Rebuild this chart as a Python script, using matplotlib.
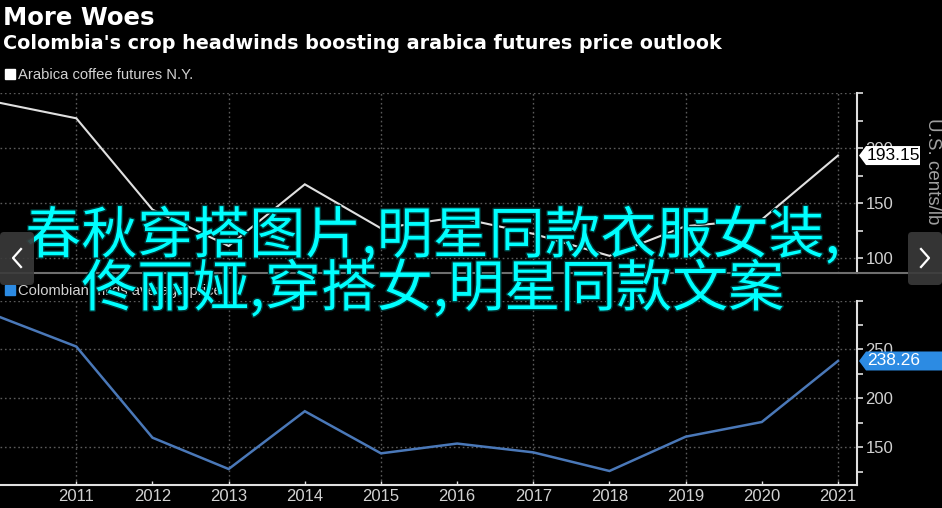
import matplotlib
matplotlib.use("Agg")
import matplotlib.pyplot as plt
from matplotlib.patches import Polygon, FancyBboxPatch, Rectangle
from matplotlib.lines import Line2D
from matplotlib.transforms import IdentityTransform
import matplotlib.patheffects as pe

# ---------------- data ----------------
years = [2010, 2011, 2012, 2013, 2014, 2015, 2016, 2017, 2018, 2019, 2020, 2021]
arabica = [241, 227, 144, 111, 167, 127, 137, 122, 102, 129, 135, 193.15]
colombian = [283, 253, 160, 128, 187, 144, 154, 145, 126, 161, 176, 238.26]
x_ticks = [2011, 2012, 2013, 2014, 2015, 2016, 2017, 2018, 2019, 2020, 2021]
x_tick_labels = [str(y) for y in x_ticks]
x_grid = [2011, 2013, 2015, 2017, 2019, 2021]
top_ticks = [100, 150, 200, 250]
top_tick_labels = ["100", "150", "200", ""]
bottom_ticks = [150, 200, 250, 300]
bottom_tick_labels = ["150", "200", "250", ""]
title = "More Woes"
subtitle = "Colombia's crop headwinds boosting arabica futures price outlook"
legend_top = "Arabica coffee futures N.Y."
legend_bottom = "Colombian milds average price"
y_label = "U.S. cents/lb"
overlay_1 = "春秋穿搭图片,明星同款衣服女装,"
overlay_2 = "佟丽娅,穿搭女,明星同款文案"

W, H = 942, 508
BG = "black"
WHITE_LINE = "#e0e0e0"
BLUE_LINE = "#4a78b8"
BLUE_BOX = "#2c8be3"
GRID = "#5a5a5a"
LABEL = "#d2d2d2"
NUM_FONT = ["Liberation Sans", "DejaVu Sans"]

fig = plt.figure(figsize=(W / 100, H / 100), dpi=100, facecolor=BG)
ID = IdentityTransform()


def fy(py):
    return 1 - py / H


def style_axes(ax, ylim, ticks, labels, color_line, lw, data, show_x):
    ax.set_facecolor(BG)
    ax.set_xlim(2009.998, 2021.25)
    ax.set_ylim(*ylim)
    ax.plot(years, data, color=color_line, lw=lw, solid_joinstyle="miter", zorder=3)
    for yv in ticks:
        ax.axhline(yv, color=GRID, lw=1.0, ls=(0, (1.2, 2)), zorder=1)
    for xv in x_grid:
        ax.axvline(xv, color=GRID, lw=1.0, ls=(0, (1.2, 2)), zorder=1)
    for s in ["left", "top"]:
        ax.spines[s].set_visible(False)
    ax.spines["right"].set_color("#e0e0e0")
    ax.spines["right"].set_linewidth(1.5)
    ax.yaxis.tick_right()
    ax.set_yticks(ticks)
    ax.set_yticklabels(labels)
    minor = [v for v in range(0, 400, 25) if ylim[0] <= v <= ylim[1] and v not in ticks]
    ax.set_yticks(minor, minor=True)
    ax.tick_params(axis="y", which="both", direction="out", length=4, width=1.2,
                   colors="#e0e0e0", labelcolor=LABEL, labelsize=12, pad=2)
    for t in ax.get_yticklabels():
        t.set_family(NUM_FONT)
    ax.set_xticks(x_ticks)
    if show_x:
        ax.spines["bottom"].set_color("#e0e0e0")
        ax.spines["bottom"].set_linewidth(1.5)
        ax.set_xticklabels(x_tick_labels)
        ax.tick_params(axis="x", direction="in", length=3, width=1, colors="#e0e0e0",
                       labelcolor=LABEL, labelsize=12, pad=3)
        for t in ax.get_xticklabels():
            t.set_family(NUM_FONT)
    else:
        ax.spines["bottom"].set_visible(False)
        ax.tick_params(axis="x", length=0, labelbottom=False)


ax1 = fig.add_axes([0, fy(273), 857 / W, (273 - 93) / H])
style_axes(ax1, (86.4, 250), top_ticks, top_tick_labels, WHITE_LINE, 1.5, arabica, False)
ax2 = fig.add_axes([0, fy(485), 857 / W, (485 - 300.5) / H])
style_axes(ax2, (111.7, 300), bottom_ticks, bottom_tick_labels, BLUE_LINE, 1.8, colombian, True)

# separator line between panels
fig.add_artist(Line2D([0, W], [H - 272.5, H - 272.5], transform=ID, color="#6e6e6e", lw=1.5))

# titles
fig.text(3 / W, fy(25), title, color="white", fontsize=17.6, fontweight="bold",
         family="DejaVu Sans", va="baseline", ha="left")
fig.text(3 / W, fy(49), subtitle, color="white", fontsize=13.8, fontweight="bold",
         family="DejaVu Sans", va="baseline", ha="left")

# legends
fig.add_artist(Rectangle((5, H - 79), 10, 10, transform=ID, color="white"))
fig.text(18 / W, fy(79), legend_top, color=LABEL, fontsize=10.6, family=NUM_FONT,
         va="baseline", ha="left")
fig.add_artist(Rectangle((5, H - 295), 10, 10, transform=ID, color=BLUE_BOX))
fig.text(18 / W, fy(295), legend_bottom, color=LABEL, fontsize=10.6, family=NUM_FONT,
         va="baseline", ha="left")

# y label
fig.text(933 / W, fy(118), y_label, color="#a0a0a0", fontsize=13.5, family=NUM_FONT,
         rotation=270, va="top", ha="center")

# value labels
fig.canvas.draw()


def value_box(ax, val, face, tcolor, x_end):
    yc = ax.transData.transform((2021, val))[1]
    h = 9.5
    pts = [(859, yc), (866, yc + h), (x_end, yc + h), (x_end, yc - h), (866, yc - h)]
    fig.add_artist(Polygon(pts, closed=True, transform=ID, facecolor=face, edgecolor="none",
                           zorder=5))
    fig.text(867 / W, yc / H, f"{val:.2f}", transform=fig.transFigure, color=tcolor,
             fontsize=12.5, family=NUM_FONT, va="center", ha="left", zorder=6)


value_box(ax1, arabica[-1], "white", "black", 920)
value_box(ax2, colombian[-1], BLUE_BOX, "white", 942)

# overlay chinese text
cjk = ["Noto Sans CJK SC", "DejaVu Sans"]
for txt, yy in [(overlay_1, 237), (overlay_2, 290)]:
    fig.text(433 / W, fy(yy), txt, color="#00ffff", fontsize=40.3, family=cjk,
             ha="center", va="center", zorder=10,
             path_effects=[pe.withStroke(linewidth=2, foreground="#003333")])

# nav buttons
for x0 in [0, 908]:
    fig.add_artist(FancyBboxPatch((x0, H - 285), 34, 53, transform=ID,
                                  boxstyle="round,pad=0,rounding_size=4",
                                  facecolor="#3a3a3a", edgecolor="none", alpha=0.9, zorder=11))
fig.add_artist(Line2D([21, 13, 21], [H - 249, H - 258, H - 267], transform=ID,
                      color="white", lw=1.6, zorder=12))
fig.add_artist(Line2D([921, 929, 921], [H - 249, H - 258, H - 267], transform=ID,
                      color="white", lw=1.6, zorder=12))

fig.savefig("out.png", dpi=100, facecolor=BG)
